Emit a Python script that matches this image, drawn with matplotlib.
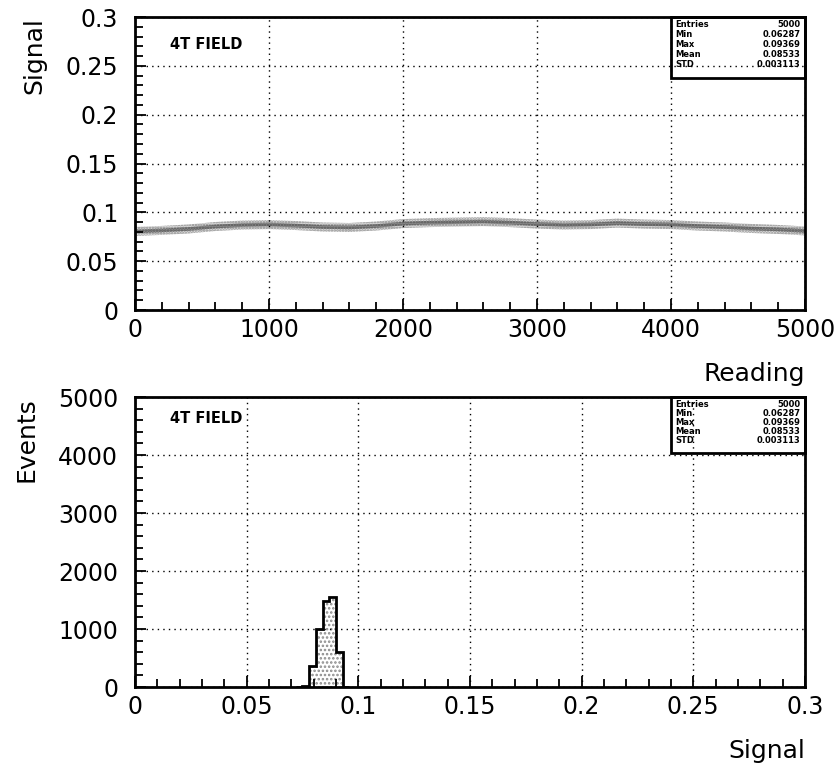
import matplotlib
matplotlib.use("Agg")
import matplotlib.pyplot as plt
import numpy as np

# top panel: band of readings, centre and spread
reading = [0, 200, 400, 600, 800, 1000, 1200, 1400, 1600, 1800, 2000, 2200, 2400,
           2600, 2800, 3000, 3200, 3400, 3600, 3800, 4000, 4200, 4400, 4600, 4800, 5000]
centre = [0.0805, 0.0815, 0.083, 0.0855, 0.087, 0.0875, 0.0865, 0.085, 0.0845, 0.086,
          0.0885, 0.0895, 0.090, 0.0905, 0.0895, 0.088, 0.087, 0.0875, 0.089, 0.088,
          0.0875, 0.086, 0.085, 0.0835, 0.0825, 0.081]
spread = [0.0046, 0.0046, 0.0046, 0.0046, 0.0046, 0.0046, 0.0046, 0.0046, 0.0046, 0.0046,
          0.0046, 0.0046, 0.0046, 0.0046, 0.0046, 0.0046, 0.0046, 0.0046, 0.0046, 0.0046,
          0.0046, 0.0046, 0.0046, 0.0046, 0.0046, 0.0046]

# bottom panel: histogram of signal
bin_edges = [0.072, 0.075, 0.078, 0.081, 0.084, 0.087, 0.090, 0.093, 0.096]
counts = [5, 15, 360, 1000, 1480, 1550, 600, 4]

stat_names = ["Entries", "Min", "Max", "Mean", "STD"]
stat_values = ["5000", "0.06287", "0.09369", "0.08533", "0.003113"]

plt.rcParams['font.family'] = ['DejaVu Sans']
plt.rcParams['hatch.linewidth'] = 1.2

fig = plt.figure(figsize=(8.38, 7.67), dpi=100)
ax1 = fig.add_axes([0.161, 0.5958, 0.7995, 0.382])
ax2 = fig.add_axes([0.161, 0.1043, 0.7995, 0.378])

c = np.array(centre)
s = np.array(spread)
ax1.fill_between(reading, c - s, c + s, facecolor="#dadada", edgecolor="#8c8c8c",
                 hatch="......", lw=0)
ax1.fill_between(reading, c - s * 0.4, c + s * 0.4, facecolor="#8a8a8a",
                 edgecolor="#555555", hatch="......", lw=0)
ax1.set_xlim(0, 5000)
ax1.set_ylim(0, 0.3)
ax1.set_xticks([0, 1000, 2000, 3000, 4000, 5000])
ax1.set_xticklabels(["0", "1000", "2000", "3000", "4000", "5000"])
ax1.set_xticks(np.arange(0, 5001, 200), minor=True)
ax1.set_yticks([0, 0.05, 0.1, 0.15, 0.2, 0.25, 0.3])
ax1.set_yticklabels(["0", "0.05", "0.1", "0.15", "0.2", "0.25", "0.3"])
ax1.set_yticks(np.arange(0, 0.301, 0.01), minor=True)

ax2.stairs(counts, bin_edges, fill=True, facecolor="white", edgecolor="#8a8a8a",
           hatch="....", lw=0)
ax2.stairs(counts, bin_edges, color="black", lw=2)
ax2.set_xlim(0, 0.3)
ax2.set_ylim(0, 5000)
ax2.set_xticks([0, 0.05, 0.1, 0.15, 0.2, 0.25, 0.3])
ax2.set_xticklabels(["0", "0.05", "0.1", "0.15", "0.2", "0.25", "0.3"])
ax2.set_xticks(np.arange(0, 0.301, 0.01), minor=True)
ax2.set_yticks([0, 1000, 2000, 3000, 4000, 5000])
ax2.set_yticklabels(["0", "1000", "2000", "3000", "4000", "5000"])
ax2.set_yticks(np.arange(0, 5001, 200), minor=True)

for ax, ytop in [(ax1, 0.792), (ax2, 0.807)]:
    ax.grid(True, which="major", color="black", linestyle=(0, (1, 3)), lw=1)
    ax.set_axisbelow(False)
    ax.tick_params(which="both", direction="in", top=False, right=False,
                   labelsize=17, width=1.3)
    ax.tick_params(axis="y", which="both", pad=12)
    ax.tick_params(axis="x", which="both", pad=6)
    ax.tick_params(which="major", length=8)
    ax.tick_params(which="minor", length=6)
    for sp in ax.spines.values():
        sp.set_linewidth(2)
    ax.text(0.052, 0.925 if ax is ax2 else 0.905, "4T FIELD", transform=ax.transAxes,
            fontsize=10.5, fontweight="bold", va="center", ha="left")
    ax.add_patch(plt.Rectangle((0.8, ytop), 0.2, 1 - ytop, transform=ax.transAxes,
                               fill=False, lw=2, color="black", clip_on=False))
    step = (1 - ytop) / 6.2
    for i, (n, v) in enumerate(zip(stat_names, stat_values)):
        y = 1 - step * (0.8 + i)
        ax.text(0.807, y, n, transform=ax.transAxes, fontsize=6,
                fontweight="bold", va="center", ha="left")
        ax.text(0.993, y, v, transform=ax.transAxes, fontsize=6,
                fontweight="bold", va="center", ha="right")

ax1.set_ylabel("Signal", fontsize=18, loc="top", labelpad=14)
ax1.set_xlabel("Reading", fontsize=18, loc="right", labelpad=14)
ax2.set_ylabel("Events", fontsize=18, loc="top", labelpad=14)
ax2.set_xlabel("Signal", fontsize=18, loc="right", labelpad=14)

fig.savefig("out.png", dpi=100)
